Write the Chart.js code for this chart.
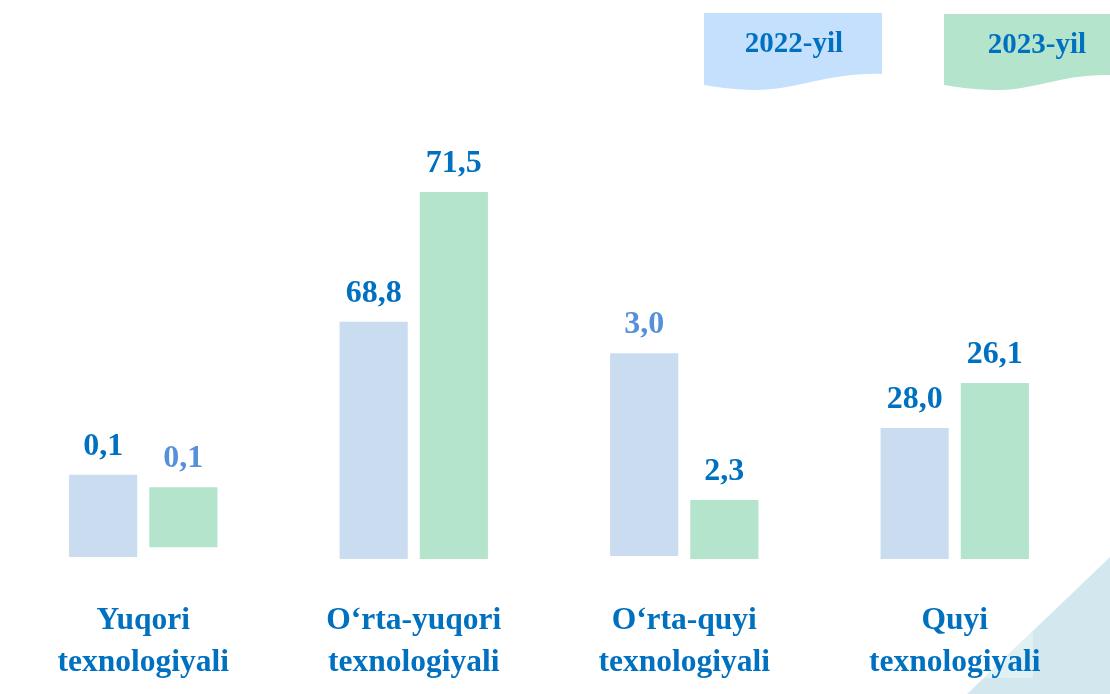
<!DOCTYPE html>
<html>
<head>
<meta charset="utf-8">
<script src="https://cdn.jsdelivr.net/npm/chart.js@4/dist/chart.umd.min.js"></script>
<style>
    body { margin: 0; background: #ffffff; }
    #wrap { width: 1110px; height: 694px; }
</style>
</head>
<body>
<div id="wrap"><canvas id="chart" width="1110" height="694"></canvas></div>
<script>
// Kategoriyalar (ikki qatorli yozuvlar)
const categories = [
    ['Yuqori', 'texnologiyali'],
    ['O\u2018rta-yuqori', 'texnologiyali'],
    ['O\u2018rta-quyi', 'texnologiyali'],
    ['Quyi', 'texnologiyali']
];
const seriesNames = ['2022-yil', '2023-yil'];

// Ustunlar ustidagi qiymatlar (ulush, %)
const values2022 = ['0,1', '68,8', '3,0', '28,0'];
const values2023 = ['0,1', '71,5', '2,3', '26,1'];

// Rasmda ustunlar qiymatga mutanosib emas - balandliklar rasmdan o'qilgan
const barTop2022 = [16.4, 46.2, 40.1, 25.5];
const barBase2022 = [0.4, 0, 0.6, 0];
const barTop2023 = [14.0, 71.5, 11.5, 34.3];
const barBase2023 = [2.3, 0, 0, 0];

const yMax = 90;

const FONT = "'Liberation Serif', 'Times New Roman', serif";
const DARK = '#0070c0';
const LIGHT = '#5590d9';
// Ba'zi yozuvlar ochroq rangda
const labelColors2022 = [DARK, DARK, LIGHT, DARK];
const labelColors2023 = [LIGHT, DARK, DARK, DARK];

function pairs(base, top) {
    return base.map((b, i) => [b, top[i]]);
}

// Qiymatlarni ustunlar ustiga yozish
const valueLabels = {
    id: 'valueLabels',
    afterDatasetsDraw(chart) {
        const ctx = chart.ctx;
        ctx.save();
        ctx.font = 'bold 32px ' + FONT;
        ctx.textAlign = 'center';
        ctx.textBaseline = 'alphabetic';
        chart.data.datasets.forEach((ds, di) => {
            chart.getDatasetMeta(di).data.forEach((bar, i) => {
                ctx.fillStyle = ds.labelColors[i];
                ctx.fillText(ds.values[i], bar.x, bar.y - 20);
            });
        });
        ctx.restore();
    }
};

// Yuqoridagi to'lqinsimon legenda va burchakdagi bezak
const decor = {
    id: 'decor',
    beforeDraw(chart) {
        const ctx = chart.ctx;
        ctx.save();

        // pastki o'ng burchakdagi uchburchak
        ctx.beginPath();
        ctx.moveTo(967, 694);
        ctx.lineTo(1110, 557);
        ctx.lineTo(1110, 694);
        ctx.closePath();
        ctx.fillStyle = '#d3e8ee';
        ctx.fill();
        ctx.save();
        ctx.clip();
        ctx.fillStyle = '#e1f0f3';
        ctx.fillRect(950, 632, 83, 46);
        ctx.restore();

        // legenda: 2022-yil
        ctx.beginPath();
        ctx.moveTo(704, 13);
        ctx.lineTo(882, 13);
        ctx.lineTo(882, 74);
        ctx.bezierCurveTo(830, 72, 795, 91, 752, 90);
        ctx.quadraticCurveTo(725, 89, 704, 85);
        ctx.closePath();
        ctx.fillStyle = '#c4e0fc';
        ctx.fill();

        // legenda: 2023-yil
        ctx.beginPath();
        ctx.moveTo(944, 14);
        ctx.lineTo(1110, 14);
        ctx.lineTo(1110, 75);
        ctx.bezierCurveTo(1060, 74, 1035, 91, 992, 90);
        ctx.quadraticCurveTo(965, 89, 944, 85);
        ctx.closePath();
        ctx.fillStyle = '#b4e5cc';
        ctx.fill();

        ctx.font = 'bold 29px ' + FONT;
        ctx.fillStyle = DARK;
        ctx.textAlign = 'center';
        ctx.textBaseline = 'alphabetic';
        ctx.fillText(seriesNames[0], 794, 52);
        ctx.fillText(seriesNames[1], 1037, 53);
        ctx.restore();
    }
};

new Chart(document.getElementById('chart'), {
    type: 'bar',
    data: {
        labels: categories,
        datasets: [{
            label: seriesNames[0],
            data: pairs(barBase2022, barTop2022),
            values: values2022,
            labelColors: labelColors2022,
            backgroundColor: '#c9dcf0',
            borderWidth: 0
        }, {
            label: seriesNames[1],
            data: pairs(barBase2023, barTop2023),
            values: values2023,
            labelColors: labelColors2023,
            backgroundColor: '#b4e5cc',
            borderWidth: 0
        }]
    },
    options: {
        responsive: false,
        animation: false,
        categoryPercentage: 0.593,
        barPercentage: 0.85,
        layout: { padding: { left: 8, right: 20, top: 97, bottom: 0 } },
        plugins: {
            legend: { display: false },
            tooltip: { enabled: false }
        },
        scales: {
            x: {
                grid: { display: false, drawTicks: false },
                border: { display: false },
                ticks: {
                    color: DARK,
                    padding: 41,
                    maxRotation: 0,
                    autoSkip: false,
                    font: { family: FONT, size: 31.5, weight: 'bold', lineHeight: 1.33 }
                },
                afterFit(scale) { scale.height = 135; }
            },
            y: {
                display: false,
                min: 0,
                max: yMax
            }
        }
    },
    plugins: [decor, valueLabels]
});
</script>
</body>
</html>
